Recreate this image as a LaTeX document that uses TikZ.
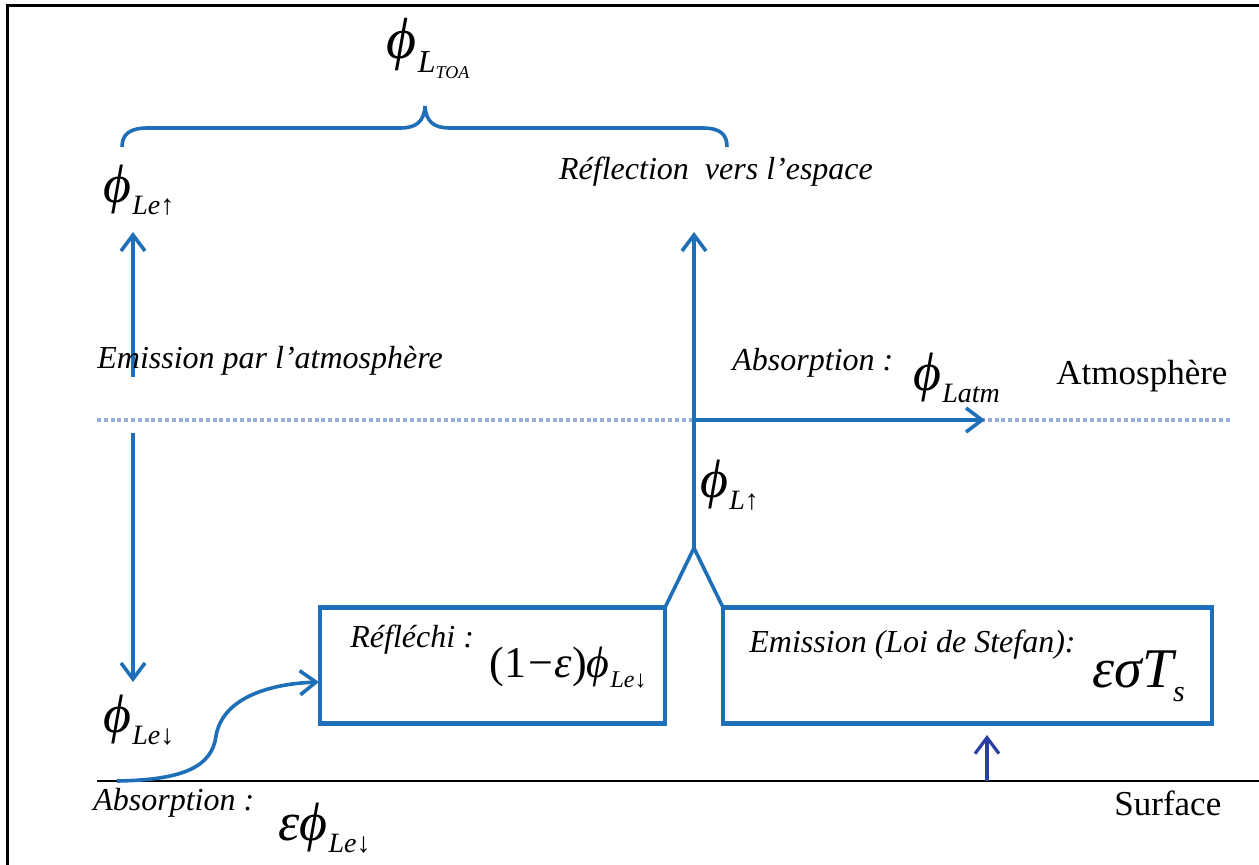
\documentclass[tikz,border=0pt]{standalone}
\usepackage{fontspec}
\setmainfont{Liberation Serif}
\usetikzlibrary{arrows.meta}
\definecolor{lineblue}{RGB}{31,110,184}
\definecolor{darkblue}{RGB}{40,62,160}
\definecolor{dotblue}{RGB}{150,176,218}
% phi (text font) with a lowered small subscript
\newcommand\phil[1]{{\fontsize{27}{27}\selectfont\itshape ϕ}\kern0.5pt\raisebox{-6pt}{\fontsize{14}{14}\selectfont\itshape #1}}
\newcommand\phim[1]{{\fontsize{22}{22}\selectfont\itshape ϕ}\kern0.5pt\raisebox{-5pt}{\fontsize{12}{12}\selectfont\itshape #1}}
\tikzset{
  flow/.style={draw=lineblue, line width=1.8pt},
  tip/.style={-{Straight Barb[length=8pt,width=12pt]}},
  boxst/.style={draw=lineblue, line width=2.4pt, inner sep=0pt, outer sep=0pt, rectangle},
  lbl/.style={font=\fontsize{16}{19}\selectfont\itshape, inner sep=0pt, text=black},
  upl/.style={font=\fontsize{17.5}{21}\selectfont, inner sep=0pt, text=black},
  mth/.style={inner sep=0pt, text=black},
  frame/.style={draw=black, line width=1.5pt},
  dotline/.style={draw=dotblue, line width=1.8pt, dash pattern=on 2pt off 1.4pt},
  surf/.style={draw=black, line width=1pt}
}
\begin{document}
\begin{tikzpicture}[x=0.5pt,y=-0.5pt]
\useasboundingbox (0,0) rectangle (1259,865);
% frame (left and top)
\coordinate (fTL) at (7,6);
\coordinate (fBL) at (7,865);
\coordinate (fTR) at (1259,6);
\draw[frame] (fBL) -- (fTL) -- (fTR);

% atmosphere dotted line and surface line
\coordinate (atmL) at (97,420);
\coordinate (atmR) at (1232,420);
\draw[dotline] (atmL) -- (atmR);
\coordinate (surfL) at (97,781);
\coordinate (surfR) at (1259,781);
\draw[surf] (surfL) -- (surfR);

% brace
\coordinate (brL) at (122,147);
\coordinate (brT) at (425,106);
\coordinate (brR) at (727,147);
\draw[flow] (brL) .. controls (122,134) and (130,128) .. (148,128) -- (400,128)
  .. controls (416,128) and (424,122) .. (brT)
  .. controls (426,122) and (434,128) .. (450,128) -- (702,128)
  .. controls (720,128) and (727,134) .. (brR);
\node[mth] (ltoa) at (428,48) {{\fontsize{29}{29}\selectfont\itshape ϕ}\kern0.5pt\raisebox{-7pt}{\fontsize{16}{16}\selectfont\itshape L\raisebox{-3pt}{\fontsize{9}{9}\selectfont TOA}}};

% left column
\node[lbl] (refesp) at (716,172) {Réflection~ vers l’espace};
\node[mth, anchor=west] (leup) at (103,190) {\phil{Le↑}};
\coordinate (luTop) at (133,232);
\coordinate (luBot) at (133,377);
\draw[flow,tip] (luBot) -- (luTop);
\node[lbl, anchor=west] (emat) at (97,361) {Emission par l’atmosphère};
\coordinate (ldTop) at (133,433);
\coordinate (ldBot) at (133,682);
\draw[flow,tip] (ldTop) -- (ldBot);
\node[mth, anchor=west] (ledn) at (103,720) {\phil{Le↓}};

% boxes
\node[boxst, minimum width=172.5pt, minimum height=58pt] (refl) at (492.5,665.5) {};
\node[boxst, minimum width=244.5pt, minimum height=58pt] (emis) at (967.5,665.5) {};
\node[lbl, anchor=west] (reftxt) at (350,640) {Réfléchi :};
\node[mth, anchor=west] (refmath) at (489,668) {{\fontsize{22}{22}\selectfont(1\kern1pt−\kern1pt{\itshape ε})}\phim{Le↓}};
\node[lbl, anchor=west] (emtxt) at (749,645) {Emission (Loi de Stefan):};
\node[mth, anchor=west] (emmath) at (1092,676) {{\fontsize{28}{28}\selectfont\itshape εσT}\raisebox{-7pt}{\fontsize{15}{15}\selectfont\itshape s}};

% central column
\coordinate (peak) at (694,548);
\draw[flow] (refl.north east) -- (peak) -- (emis.north west);
\coordinate (topR) at (694,232);
\draw[flow,tip] (peak) -- (topR);
\coordinate (hA) at (694,420);
\coordinate (hB) at (985,420);
\draw[flow,tip] (hA) -- (hB);
\node[lbl, anchor=west] (absat) at (732,363) {Absorption :};
\node[mth, anchor=west] (latm) at (913,378) {\phil{Latm}};
\node[upl, anchor=west] (atm) at (1056,376) {Atmosphère};
\node[mth, anchor=west] (lup) at (700,485) {\phil{L↑}};

% surface emission arrow
\coordinate (sA) at (987,781);
\coordinate (sB) at (987,735);
\draw[draw=darkblue, line width=1.6pt, tip] (sA) -- (sB);

% absorbed curve
\coordinate (cA) at (117,781);
\coordinate (cB) at (319,682);
\draw[flow,tip] (cA) .. controls (185,780) and (212,766) .. (216,736)
  .. controls (222,700) and (265,684) .. (cB);

% bottom labels
\node[lbl, anchor=west] (abss) at (93,803) {Absorption :};
\node[mth, anchor=west] (epsl) at (278,828) {{\fontsize{27}{27}\selectfont\itshape ε}\phil{Le↓}};
\node[upl, anchor=west] (surf) at (1114,803) {Surface};
\end{tikzpicture}
\end{document}
